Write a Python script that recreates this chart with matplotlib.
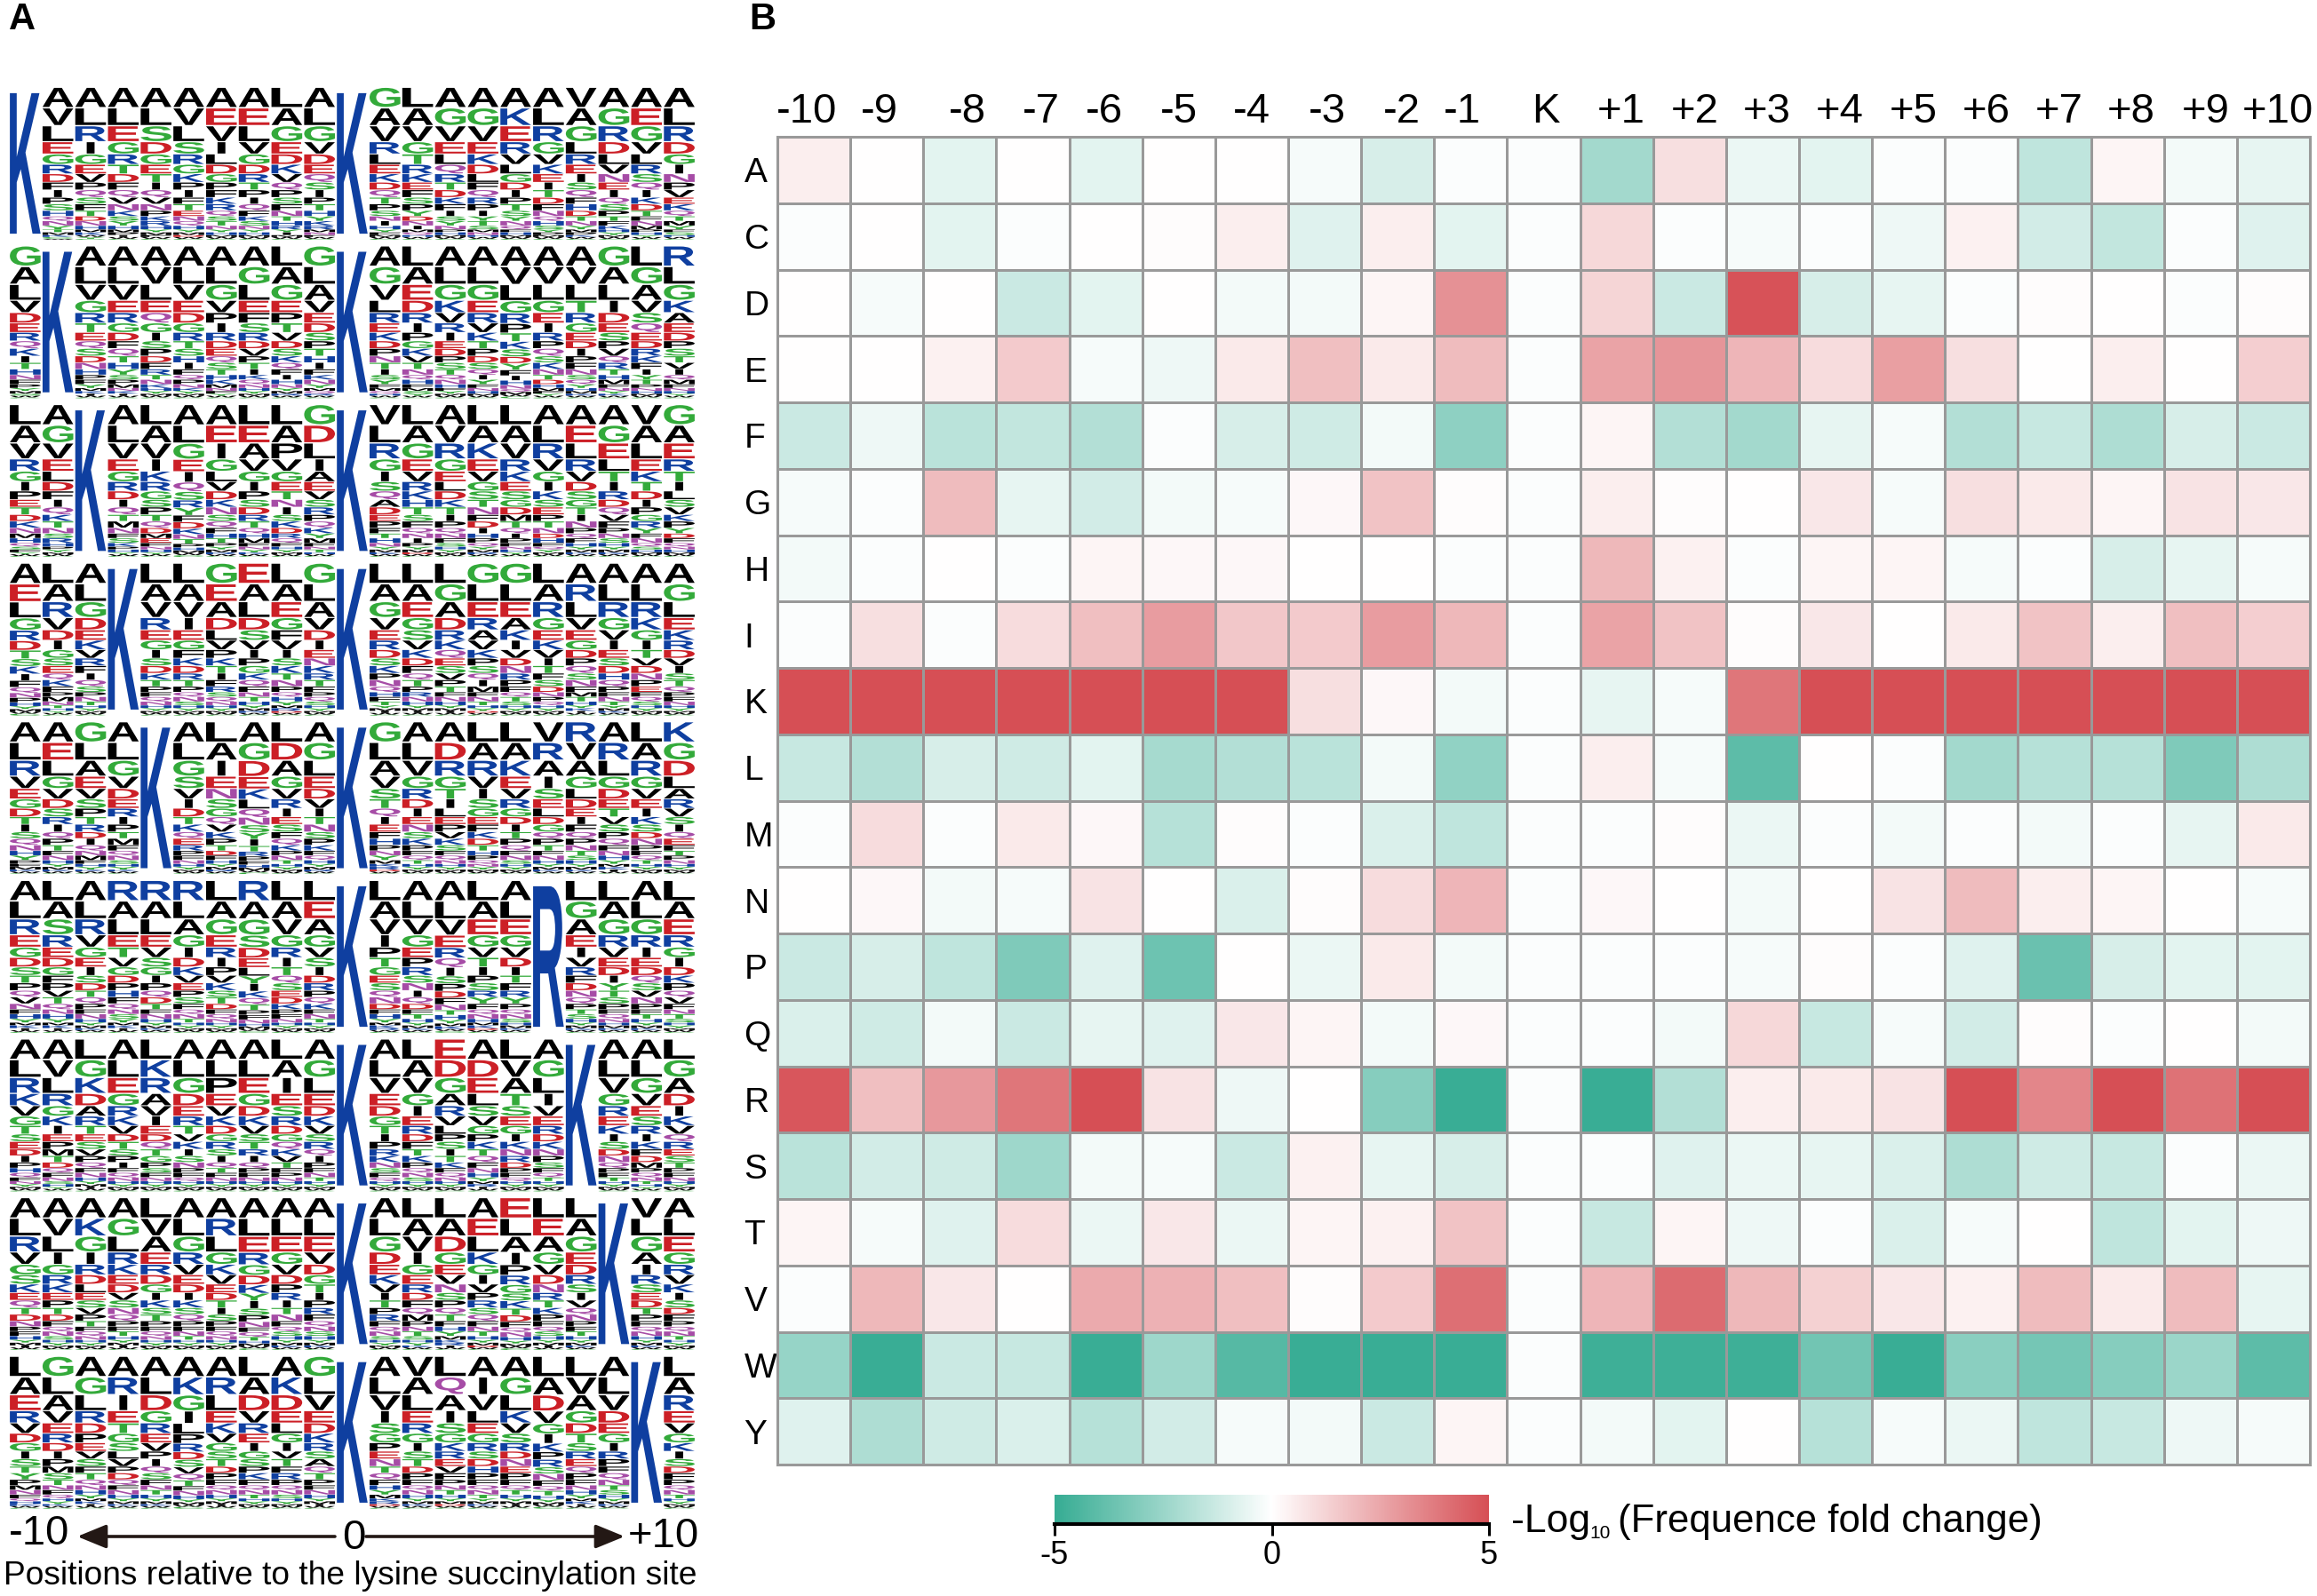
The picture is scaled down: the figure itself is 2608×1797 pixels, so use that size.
import numpy as np
import matplotlib
matplotlib.use("Agg")
import matplotlib.pyplot as plt
from matplotlib.colors import LinearSegmentedColormap
from matplotlib.font_manager import FontProperties
from matplotlib.patches import FancyArrowPatch, PathPatch
from matplotlib.path import Path
from matplotlib.textpath import TextPath
from matplotlib.transforms import Affine2D

W, H = 2608, 1797

plt.rcParams['font.family'] = ['Liberation Sans', 'DejaVu Sans']
plt.rcParams['axes.unicode_minus'] = False

# Panel A: letters of each logo column, top to bottom
LOGO_1 = ["K", "AVLEGRDFIPSHQNYTMKCW", "ALRIGEVPQSFTDNHMKW", "ALEGRTDFQVNKSYHMP", "ALSDGETIQVNPKRHYMF",
          "AVLSRGKPIFTENQHYMD", "AEVILDGPFKRQSTNYHM", "AELVGDRTPIQFKSNYHM", "LAGEDKVQPSFNTHRYIM", "ALGVDEQSIPTHYKRMNF",
          "K", "GAVRLEKDQTPSNIHYFM", "LAVGTRKEFSPYDNIMQH", "AGVELQRTDKFISYNPHM", "AGVEKDLFQRPIYTSM",
          "AKERVLGDIPTSYNQF", "ALRGVKEITDFNQHSY", "VAGLREISQFHDTNYM", "AGRDLVNEIQSPTFK", "AEGVLRSQIKDTFNM", "ALRDGINPVEKQTMY"]
LOGO_2 = ["GALVDERQKITHNFPYM", "K", "ALVGRTEQSDNHPFYM", "ALVERGDFQTHYSPMN", "AVLEQGISPDFRTNKH",
          "ALVEDGRTSHIFQPNK", "ALGVPIRDEQSTHKMN", "AGLEFSRDVPTIKQN", "LAGEPTVDSKQFIHN", "GLAVEDSPTHIFKNYM",
          "K", "AGVLREKDPNTISYFM", "LAEDRIPGKVTNQHFM", "ALGKVRIEDPSTQNH", "ALGERVKTPDSQIYF",
          "AVLGRPTKSDYFIHN", "AVLGEIRPQSKNTDHM", "AVLTRGEDIPFNSQY", "GALIDESPVQRTHM", "LGAVSQEDRKFIYT", "RLGKAEDPSTVIQM"]
LOGO_3 = ["LAVRGIPETDKNMHQS", "AGVELDFIQKTNSRHP", "K", "ALVEGRDIQTMNFSK", "LAVIKRGSPTQDME",
          "ALGEIQSRYFDKNTP", "AEIGLVDKNSQFHT", "LEAVGIPSDRTQHM", "LAPVGETNISKDRQF", "GDLIAEVSRPQKYM",
          "K", "VLRGISQADEPFTH", "LAGEVRKHTSFQNI", "AVRGELDKTIPQNF", "LAKEVGSTNFDIHP",
          "LAVRKESGDMTQIP", "ALRVGIKSEPTNDH", "AELRVDSGTINPQF", "AGELTIRDQVFP", "VALEKTDIPGRYFN", "GAERTILSVKPYDF"]
LOGO_4 = ["AELGRDTSKIFQN", "LARVDIGSEQKFPM", "ALGDEKVRFIQS", "K", "LAVREGISDKTPFQN",
          "LAVIEGFKDRTPQ", "GEADLVPKTIFRS", "EALDSVIPGKQ", "LAEGFVISKTNPQ", "GLAVDIENKRTF",
          "K", "LAGVERDSKPNQH", "LAEGSVKDFQTPR", "LGADRKQESVPT", "GLERAVKPSQIM",
          "GLEAKIVDNR", "LARGEKVITFSDN", "ARLVEGDPQSNFMT", "ALRGVIESDHQ", "ALRKGITVDNPE", "AGLEKRDVISTQ"]
LOGO_5 = ["ALRVEGDTISQNHY", "AELGVDSRIQPT", "GLAEVSPTRDIQNM", "ALGVDERIPTM", "K",
          "ALGSVIDTKQER", "LAIENSGQVKPTD", "AGDEKLQNSYITR", "LDAGVRIESFQK", "AGLEDVITNSPK",
          "K", "GLAVSTQIEFHP", "ALVGRDIENSK", "ADRGTILEPVKS", "LARVISGEFKDTH",
          "LAKEVRGDITPQ", "VRAISELDGQPT", "RVAGLDEIFQ", "ARLGDETVSPQ", "LARGVEIKSDN", "KGDLARVSIQEFT"]
LOGO_6 = ["ALREGDSTPQVN", "LASREDGFPVT", "ALRVGEISDTQ", "RALETVGDPH", "RALEVSGIPQDT",
          "RLAGIDKVEPS", "LAGERIPVKSTD", "RAGSDELYIKQT", "LAVGRITQSEDK", "LEAGVSIDRPQK",
          "K", "LAVIPTGESQND", "ALVGEPRSNIQD", "ALVERQISPD", "LAEGVTIPSRY",
          "ALEGVDITFRY", "R", "LGAEIVRFDNQ", "LAGRVEDIYTS", "ALGRIEDQSVN", "LAERGIDKPQV"]
LOGO_7 = ["ALRKVGTSEDIPHQ", "AVLRGKIEPMTDQ", "LGKDARTESVPQ", "ALEGRKVDTSPI", "LKRAVIEDQTGPS",
          "ALGDERTVKISN", "ALPEVKDGRSIQT", "ALEGDKVSTRIQ", "LAIESRDGQKVTF", "AGLEDKVSRQI",
          "K", "ALVEDGTIPRKNS", "LAVGIERDFTK", "EDGARVLPSITK", "ADELSVGPKTQ",
          "LVATSEGIKNRD", "AGLIVERDKNPS", "K", "ALVGREKISDNQ", "ALGVESRIKFDM", "LGADIKVQREST"]
LOGO_8 = ["ALRVGSKEQTDNP", "AVLIGRKEPTDF", "AKGIRDLESVPT", "AGLRKEDVSNQ", "LVAERDGIKSTP",
          "ALGRVEDIKSQ", "ARLGKVEDTIS", "ALERGDKYISPN", "ALEGVDPRITN", "ALEVDGTIPR",
          "K", "ALGDEKVITPR", "LAVIGERDFQM", "LADGEVNSPQT", "AELKGIVPRSQ",
          "ELAIPRGSKTD", "LEAGVDNRTKP", "LAGEDRSIVQN", "K", "VLGAIRSEDTP", "ALEGRVKISDF"]
LOGO_9 = ["LAERVDGISTYPMN", "GLAVERDIPMSTN", "AGLRDPEVSFT", "ARIETGSLVPDQ", "ALDGREVPIQS",
          "AKGILPRDSVQT", "ARLEKVGSTDP", "LADVREIGSPK", "AKDELGIVTFR", "GLVEDKRSAQT",
          "K", "ALVISGPENTQ", "VALERGISTDP", "LQAISGKREVF", "AIVLEGRSDH",
          "AGLKVSRDNE", "LADVGIKPRSN", "LVAGDTSREQ", "ALVDEGIR", "K", "LAREVGKISDF"]
LOGO_ROWS = [LOGO_1, LOGO_2, LOGO_3, LOGO_4, LOGO_5, LOGO_6, LOGO_7, LOGO_8, LOGO_9]

# rarest residues, used for the unreadable bottom layers of a column
TAIL_ORDER = "PFQNTSHYMKRDIWC"
# letter heights, tallest first
RANK_HEIGHTS = [22, 19, 17, 13, 11, 10, 9, 8, 8, 7, 7, 6, 5, 5, 4, 3, 3, 2, 2, 1]

LETTER_COLORS = {'black': "AVLIPFMW", '#cc1f26': "DE", '#0f3fa0': "KRH", '#33aa3a': "GSTYC", '#a64ca6': "QN"}

# Panel B
RESIDUES = list("ACDEFGHIKLMNPQRSTVWY")
POSITIONS = ["-10", "-9", "-8", "-7", "-6", "-5", "-4", "-3", "-2", "-1", "K",
             "+1", "+2", "+3", "+4", "+5", "+6", "+7", "+8", "+9", "+10"]
LABEL_NUDGE = [-.1, -.1, .1, .12, -.02, 0, 0, .03, .06, -.12, .03,
               .06, .07, .06, .06, .07, .06, .06, .05, .07, .06]

HEAT = [
    [.5, 0, -.7, 0, -.7, 0, 0, -.2, -1, -.1, -.1, -2.3, .9, -.5, -.7, -.1, -.1, -1.6, .3, -.3, -.6],
    [-.1, 0, -.7, -.1, 0, .1, .5, -.8, .5, -.7, -.1, 1.1, -.1, -.2, -.1, -.4, .4, -1.1, -1.5, -.1, -.8],
    [0, -.2, 0, -1.3, -.7, 0, -.3, -.3, .3, 3.1, -.1, 1.2, -1.3, 4.9, -1, -.6, -.1, .1, 0, -.1, .1],
    [0, 0, .4, 1.5, -.2, -.4, .6, 1.8, .6, 1.9, -.1, 2.6, 3, 2.1, 1, 2.7, .9, 0, .5, 0, 1.4],
    [-1.3, -.4, -1.7, -1.5, -1.9, -.1, -1, -1.2, -.3, -2.8, -.1, .3, -1.9, -2.3, -.6, -.2, -1.9, -1.4, -2, -1, -1.3],
    [-.2, -.1, 1.9, -.6, -1.1, -.3, -.2, .2, 1.7, .1, -.1, .5, .1, 0, .7, -.2, .9, .6, .3, .8, .7],
    [-.3, -.1, 0, -.1, .3, .2, .2, 0, 0, -.1, -.1, 2, .4, -.1, .3, .3, -.2, -.1, -1, -.6, -.2],
    [-.1, .9, -.1, 1, 1.8, 2.8, 1.6, 1.5, 2.8, 2, -.1, 2.6, 1.7, .1, .7, 0, .6, 1.7, .5, 1.8, 1.4],
    [5, 5, 5, 5, 5, 5, 5, .9, .2, -.3, -.1, -.6, -.2, 3.9, 5, 5, 5, 5, 5, 5, 5],
    [-1.4, -1.9, -1, -1.2, -.7, -2.2, -1.9, -1.7, -.3, -2.7, -.1, .5, -.2, -4, 0, -.1, -2.3, -1.8, -1.8, -3.2, -2],
    [-.1, 1, -.1, .6, .2, -1.8, .1, -.1, -.9, -1.6, -.1, -.1, .1, -.5, -.1, -.3, -.1, -.3, -.1, -.6, .6],
    [0, .2, -.3, -.2, .8, 0, -.9, .1, 1, 2.1, -.1, .2, 0, -.3, 0, .8, 1.9, .5, .3, 0, -.2],
    [-1.3, -1, -1.6, -3.2, -.8, -3.6, 0, -.5, .6, -.3, -.1, -.1, -.1, -.2, .1, -.1, -.8, -3.7, -1, -.7, -.7],
    [-.9, -1.2, -.3, -1.3, -.6, -.8, .7, .3, -.3, .2, -.1, -.1, -.3, 1.1, -1.4, -.2, -1.1, .1, -.1, 0, -.3],
    [4.8, 1.8, 2.9, 3.9, 5, .8, -.4, 0, -3, -4.9, -.1, -4.9, -1.9, .5, .6, .8, 5, 3.4, 5, 4, 5],
    [-1.7, -1.1, -1.2, -2.4, -.3, -.2, -1.3, .4, -.6, -1, -.1, -.1, -.8, -.5, -.6, -.9, -2, -1.2, -1.4, -.1, -.5],
    [.3, -.2, -.8, 1, -.5, .7, -.5, .3, .4, 1.7, -.1, -1.4, .3, -.4, -.1, -.9, -.2, 0, -1.6, -.7, -.4],
    [-.1, 2, .7, 0, 2.4, 2.2, 1.8, .1, 1.5, 4.1, -.1, 2.1, 4.2, 2, 1.3, .7, .4, 1.9, .6, 1.9, -.6],
    [-2.6, -4.9, -1.3, -1.4, -4.9, -2.4, -4.2, -4.9, -4.9, -4.9, -.1, -4.8, -4.8, -4.8, -3.5, -4.9, -2.9, -3.4, -3, -2.5, -4],
    [-.8, -2, -1.2, -.9, -1.8, -1.1, -.2, -.3, -1.3, .3, -.1, -.3, -.7, 0, -1.8, -.2, -.5, -1.6, -1.4, -.4, -.2],
]
CBAR_TICKS = [-5, 0, 5]

fig = plt.figure(figsize=(W / 100, H / 100), dpi=100)


def px_axes(left, top, right, bottom):
    return fig.add_axes([left / W, 1 - bottom / H, (right - left) / W, (bottom - top) / H])


def px_text(x, y, s, **kw):
    kw.setdefault('ha', 'center')
    kw.setdefault('va', 'center')
    return fig.text(x / W, 1 - y / H, s, **kw)


def full_column(letters):
    if len(letters) == 1:
        return letters, [1.0]
    letters = letters + "".join(c for c in TAIL_ORDER if c not in letters)
    letters = letters[:len(RANK_HEIGHTS)]
    heights = np.array(RANK_HEIGHTS[:len(letters)], dtype=float)
    return letters, heights / heights.sum()


logo_font = FontProperties(family='Liberation Sans', weight='bold')
glyphs = {c: TextPath((0, 0), c, size=1, prop=logo_font) for c in "ACDEFGHIKLMNPQRSTVWY"}
color_of = {c: col for col, group in LETTER_COLORS.items() for c in group}


def draw_logo(ax, columns):
    ax.set_xlim(0, len(columns))
    ax.set_ylim(1, 0)
    ax.axis('off')
    pieces = {col: [] for col in LETTER_COLORS}
    for x, letters in enumerate(columns):
        letters, heights = full_column(letters)
        y = 0
        for c, h in zip(letters, heights):
            g = glyphs[c]
            box = g.get_extents()
            pad_x = .38 if c == 'I' else .03
            x0, x1 = x + pad_x, x + 1 - pad_x
            y0, y1 = y + .04 * h, y + .96 * h
            tr = (Affine2D().translate(-box.x0, -box.y0).scale(1 / box.width, -1 / box.height)
                  .scale(x1 - x0, y1 - y0).translate(x0, y1))
            pieces[color_of[c]].append(g.transformed(tr))
            y += h
    for col, paths in pieces.items():
        if paths:
            ax.add_patch(PathPatch(Path.make_compound_path(*paths), facecolor=col, lw=0))


for i, columns in enumerate(LOGO_ROWS):
    top = 98 + 178.6 * i
    draw_logo(px_axes(10, top, 783, top + 172), columns)

# arrows and captions under the logos
for start, end in [(377, 87), (412, 703)]:
    fig.add_artist(FancyArrowPatch((start / W, 1 - 1730 / H), (end / W, 1 - 1730 / H),
                                   transform=fig.transFigure, color='#231815', lw=2.6,
                                   arrowstyle='-|>,head_length=1,head_width=.41', mutation_scale=20,
                                   shrinkA=0, shrinkB=0))
px_text(44, 1727, "-10", fontsize=34, color='black')
px_text(398, 1732, "0", fontsize=34, color='black')
px_text(747, 1730, "+10", fontsize=34, color='black')
px_text(394, 1775, "Positions relative to the lysine succinylation site", fontsize=26.7, color='black')

px_text(25, 22, "A", fontsize=30, fontweight='bold')
px_text(858, 22, "B", fontsize=30, fontweight='bold')

# heat map
cmap = LinearSegmentedColormap.from_list('teal_red', ['#36ac93', '#ffffff', '#d64f55'])
ax = px_axes(875, 154, 2600, 1649)
mesh = ax.pcolormesh(np.array(HEAT), cmap=cmap, vmin=-5, vmax=5, edgecolors='#999999', linewidth=1.8)
ax.set_xlim(0, len(POSITIONS))
ax.set_ylim(len(RESIDUES), 0)
ax.xaxis.tick_top()
ax.set_xticks(np.arange(len(POSITIONS)) + .5 + np.array(LABEL_NUDGE), POSITIONS, fontsize=34)
ax.set_yticks(np.arange(len(RESIDUES)) + .5, RESIDUES, fontsize=28)
ax.tick_params(axis='x', length=0, pad=4)
ax.tick_params(axis='y', length=0, pad=27)
for label in ax.get_yticklabels():
    label.set_ha('left')
for spine in ax.spines.values():
    spine.set_color('#999999')
    spine.set_linewidth(2.2)

# colour bar
cax = px_axes(1187, 1683, 1676, 1716)
cb = fig.colorbar(mesh, cax=cax, orientation='horizontal', ticks=CBAR_TICKS)
cb.outline.set_visible(False)
cb.ax.spines['bottom'].set_visible(True)
cb.ax.spines['bottom'].set_linewidth(3)
cb.ax.set_xticklabels([str(t) for t in CBAR_TICKS])
cb.ax.tick_params(axis='x', length=9, width=2.2, labelsize=26, pad=4)

px_text(1701, 1713, "-Log", ha='left', fontsize=32)
px_text(1789, 1727, "10", ha='left', fontsize=15)
px_text(1821, 1713, "(Frequence fold change)", ha='left', fontsize=31.5)

fig.savefig('out.png', dpi=100, facecolor='white')
